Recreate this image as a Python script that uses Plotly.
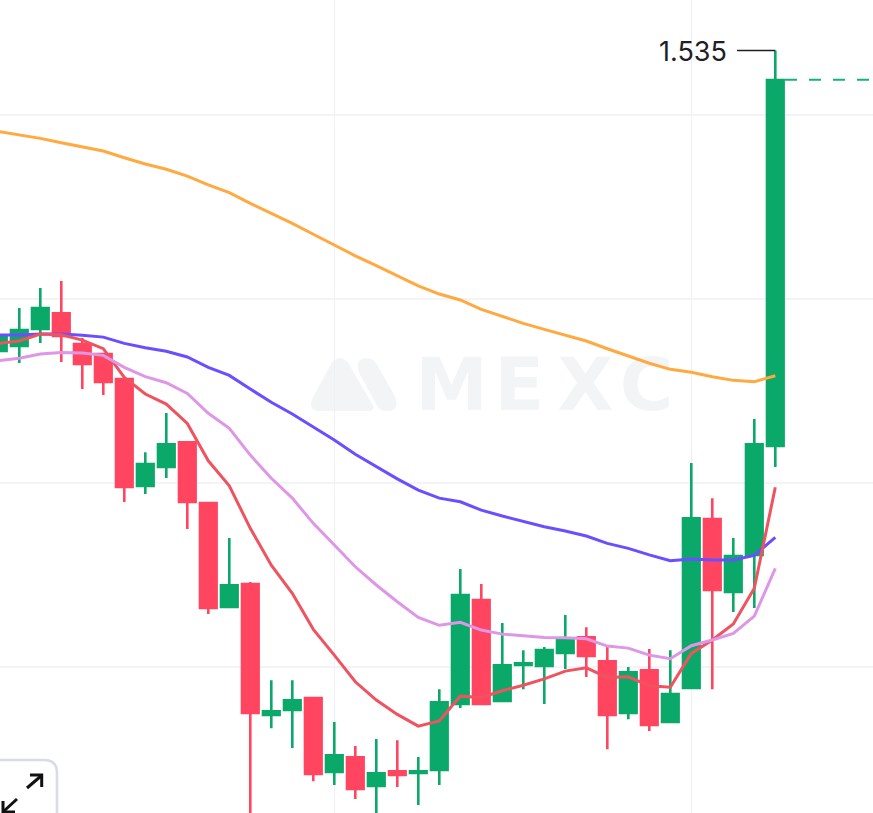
import plotly.graph_objects as go

# ── Palette ───────────────────────────────────────────────────────────────
_GREEN  = "#0AA96A"
_RED    = "#FF4560"
_ORANGE = "#FFA940"
_PURPLE = "#6B4EFF"
_PINK   = "#DE97E6"
_CORAL  = "#EF5360"
_GRID   = "#F4F4F8"
_MARK   = "#F3F4F6"
_INK    = "#1E2026"

W, H = 873, 813

# ── Candles (price) ───────────────────────────────────────────────────────
opens = [1.3712, 1.3739, 1.3832, 1.3929, 1.3761, 1.3707, 1.3571, 1.2978, 1.3082, 1.3228,
         1.2897, 1.2321, 1.2457, 1.1734, 1.1761, 1.1837, 1.1424, 1.1516, 1.1348, 1.1440,
         1.1418, 1.1435, 1.1793, 1.2370, 1.1810, 1.2005, 1.2000, 1.2071, 1.2168, 1.2038,
         1.1745, 1.1989, 1.1696, 1.1880, 1.2810, 1.2402, 1.2603, 1.3196]
highs = [1.3832, 1.3951, 1.4060, 1.4098, 1.3788, 1.3707, 1.3571, 1.3168, 1.3380, 1.3228,
         1.2897, 1.2701, 1.2462, 1.1929, 1.1929, 1.1837, 1.1701, 1.1571, 1.1609, 1.1603,
         1.1511, 1.1880, 1.2533, 1.2451, 1.2239, 1.2092, 1.2109, 1.2283, 1.2217, 1.2109,
         1.2000, 1.2098, 1.2092, 1.3109, 1.2918, 1.2701, 1.3348, 1.5350]
lows = [1.3679, 1.3652, 1.3761, 1.3658, 1.3511, 1.3478, 1.2897, 1.2940, 1.3027, 1.2750,
        1.2288, 1.2321, 1.1114, 1.1668, 1.1560, 1.1380, 1.1359, 1.1283, 1.1196, 1.1348,
        1.1250, 1.1359, 1.1777, 1.1793, 1.1810, 1.1880, 1.1799, 1.1989, 1.1946, 1.1554,
        1.1717, 1.1652, 1.1696, 1.1880, 1.1880, 1.2299, 1.2321, 1.3087]
closes = [1.3799, 1.3837, 1.3957, 1.3793, 1.3641, 1.3543, 1.2973, 1.3109, 1.3217, 1.2891,
          1.2315, 1.2451, 1.1745, 1.1766, 1.1826, 1.1413, 1.1527, 1.1332, 1.1429, 1.1408,
          1.1440, 1.1815, 1.2397, 1.1793, 1.2016, 1.2027, 1.2098, 1.2152, 1.2054, 1.1734,
          1.1978, 1.1679, 1.1859, 1.2815, 1.2413, 1.2609, 1.3217, 1.5196]

# ── Moving averages (price) ───────────────────────────────────────────────
ma_orange = [1.4911, 1.4893, 1.4873, 1.4849, 1.4828, 1.4804, 1.4768, 1.4734, 1.4705, 1.4668,
             1.4620, 1.4578, 1.4520, 1.4466, 1.4411, 1.4352, 1.4293, 1.4235, 1.4181, 1.4125,
             1.4071, 1.4027, 1.3995, 1.3944, 1.3904, 1.3868, 1.3835, 1.3804, 1.3772, 1.3730,
             1.3692, 1.3651, 1.3618, 1.3602, 1.3578, 1.3558, 1.3551, 1.3583]
ma_purple = [1.3804, 1.3804, 1.3810, 1.3810, 1.3803, 1.3793, 1.3759, 1.3735, 1.3716, 1.3685,
             1.3629, 1.3585, 1.3511, 1.3439, 1.3375, 1.3303, 1.3234, 1.3156, 1.3089, 1.3023,
             1.2962, 1.2918, 1.2898, 1.2853, 1.2821, 1.2790, 1.2763, 1.2739, 1.2712, 1.2672,
             1.2645, 1.2610, 1.2578, 1.2587, 1.2582, 1.2582, 1.2607, 1.2705]
ma_pink = [1.3665, 1.3678, 1.3701, 1.3710, 1.3707, 1.3694, 1.3629, 1.3578, 1.3545, 1.3487,
           1.3379, 1.3297, 1.3152, 1.3026, 1.2918, 1.2781, 1.2663, 1.2545, 1.2446, 1.2355,
           1.2270, 1.2227, 1.2243, 1.2201, 1.2179, 1.2168, 1.2161, 1.2159, 1.2154, 1.2114,
           1.2103, 1.2065, 1.2045, 1.2116, 1.2147, 1.2183, 1.2277, 1.2536]
ma_coral = [1.3759, 1.3772, 1.3810, 1.3806, 1.3777, 1.3730, 1.3574, 1.3484, 1.3429, 1.3324,
            1.3121, 1.2985, 1.2754, 1.2554, 1.2401, 1.2205, 1.2065, 1.1920, 1.1821, 1.1743,
            1.1679, 1.1707, 1.1842, 1.1835, 1.1871, 1.1901, 1.1936, 1.1978, 1.1996, 1.1944,
            1.1947, 1.1898, 1.1890, 1.2074, 1.2147, 1.2234, 1.2428, 1.2977]

candle_index = list(range(len(opens)))
price_ticks = [1.2, 1.3, 1.4, 1.5]
time_ticks = [16, 33]
high_label = "1.535"

X_RANGE = [0.081, 41.652]
Y_RANGE = [1.1207, 1.5625]

# Watermark letters, centred on the glyphs
mark_letters = ["M", "E", "X", "C"]
mark_x = [21.58, 24.8, 27.96, 30.87]
mark_y = [1.3498, 1.3498, 1.3498, 1.3498]

# The candle outline grows each body by half a stroke, about 1px in price
OUTLINE = 0.0006
body_opens = [o + OUTLINE if c > o else o - OUTLINE for o, c in zip(opens, closes)]
body_closes = [c - OUTLINE if c > o else c + OUTLINE for o, c in zip(opens, closes)]


def _px(x: float, y: float) -> str:
    """Pixel position in the window to a paper coordinate pair for a path."""
    return f"{x / W:.5f},{1 - y / H:.5f}"


def _logo(x: float, y: float) -> tuple[float, float]:
    return 290 + x / 3, 340 + y / 3


def _logo_path(parts: list) -> str:
    out = []
    for cmd, *pts in parts:
        out.append(cmd + " " + " ".join(_px(*_logo(*p)) for p in pts))
    return " ".join(out) + " Z"


fig = go.Figure()

# ── Watermark ─────────────────────────────────────────────────────────────
fig.add_trace(go.Scatter(
    x=mark_x, y=mark_y, mode="text", text=mark_letters,
    textposition="middle center",
    textfont=dict(family="DejaVu Sans", size=73, color=_MARK, weight="bold"),
    hoverinfo="skip",
))

# ── Candles ───────────────────────────────────────────────────────────────
fig.add_trace(go.Candlestick(
    x=candle_index, open=body_opens, high=highs, low=lows, close=body_closes,
    increasing=dict(line=dict(color=_GREEN, width=2.6), fillcolor=_GREEN),
    decreasing=dict(line=dict(color=_RED, width=2.6), fillcolor=_RED),
    whiskerwidth=0,
    hoverinfo="skip",
))

# ── Moving averages ───────────────────────────────────────────────────────
for values, color in [(ma_orange, _ORANGE), (ma_purple, _PURPLE), (ma_coral, _CORAL), (ma_pink, _PINK)]:
    fig.add_trace(go.Scatter(
        x=candle_index, y=values, mode="lines",
        line=dict(color=color, width=3),
        hoverinfo="skip",
    ))

shapes = [
    # logo, behind the grid
    dict(type="path", xref="paper", yref="paper", layer="below", line_width=0, fillcolor=_MARK,
         path=_logo_path([("M", (90, 213)), ("L", (235, 213)), ("Q", (258, 213), (245, 190)),
                          ("L", (175, 70)), ("Q", (150, 38), (125, 70)), ("L", (70, 170)),
                          ("Q", (50, 213), (90, 213))])),
    dict(type="path", xref="paper", yref="paper", layer="below", line_width=0, fillcolor=_MARK,
         path=_logo_path([("M", (207, 98)), ("Q", (192, 55), (232, 55)), ("Q", (250, 55), (262, 75)),
                          ("L", (315, 170)), ("Q", (332, 213), (290, 213)), ("Q", (270, 213), (260, 195))])),
    # last close, dashed out to the right edge
    dict(type="line", xref="x", yref="y", x0=37.46, x1=X_RANGE[1], y0=closes[-1] - 0.0005, y1=closes[-1] - 0.0005,
         line=dict(color="#12B37A", width=2, dash="12px,12px")),
    # leader from the high label
    dict(type="line", xref="x", yref="y", x0=35.18, x1=candle_index[-1], y0=highs[-1], y1=highs[-1],
         line=dict(color=_INK, width=1.5)),
    # expand button, bottom left corner
    dict(type="path", xref="paper", yref="paper", fillcolor="#FFFFFF",
         line=dict(color="#D8DCE8", width=2.6),
         path=f"M {_px(-3, 760)} L {_px(44, 760)} Q {_px(57, 760)} {_px(57, 773)} L {_px(57, 816)} L {_px(-3, 816)} Z"),
]
for pts in [[(27, 788), (41, 776)], [(30, 775), (41.7, 775), (41.7, 787)],
            [(17, 799), (4, 811)], [(3, 801), (3, 812), (15, 812)]]:
    shapes.append(dict(
        type="path", xref="paper", yref="paper", line=dict(color="#111111", width=3),
        path="M " + " L ".join(_px(*p) for p in pts),
    ))

fig.update_layout(
    width=W,
    height=H,
    margin=dict(l=0, r=0, t=0, b=0),
    paper_bgcolor="#FFFFFF",
    plot_bgcolor="#FFFFFF",
    showlegend=False,
    hovermode=False,
    boxgap=0.21,
    boxgroupgap=0,
    shapes=shapes,
    xaxis=dict(
        range=X_RANGE, rangeslider=dict(visible=False),
        tickvals=time_ticks, showticklabels=False, ticks="",
        showgrid=True, gridcolor="#EEF0F6", gridwidth=1.2,
        zeroline=False, showline=False,
    ),
    yaxis=dict(
        range=Y_RANGE,
        tickvals=price_ticks, showticklabels=False, ticks="",
        showgrid=True, gridcolor=_GRID, gridwidth=1.6,
        zeroline=False, showline=False,
    ),
    annotations=[dict(
        x=34.8, y=highs[-1], xref="x", yref="y", text=high_label, showarrow=False,
        xanchor="right", yanchor="middle", yshift=-1,
        font=dict(family="Inter", size=27, color=_INK),
    )],
)

fig.write_html(
    "out.html",
    config=dict(displayModeBar=False),
    post_script="document.body.style.margin='0';document.body.style.overflow='hidden';",
)
